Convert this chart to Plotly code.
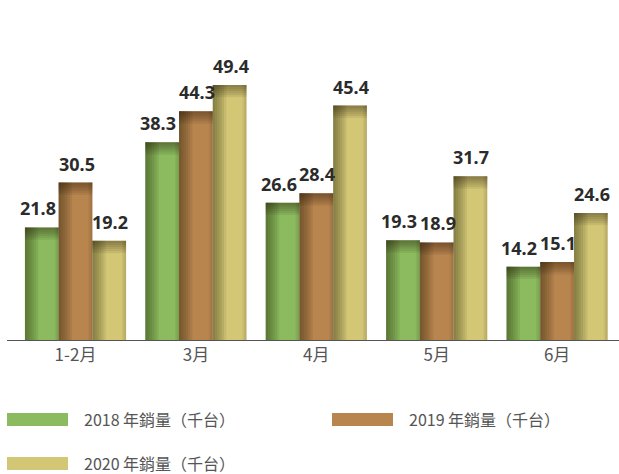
import plotly.graph_objects as go

categories = ["1-2月", "3月", "4月", "5月", "6月"]
series_names = ["2018 年銷量（千台）", "2019 年銷量（千台）", "2020 年銷量（千台）"]
sales_2018 = [21.8, 38.3, 26.6, 19.3, 14.2]
sales_2019 = [30.5, 44.3, 28.4, 18.9, 15.1]
sales_2020 = [19.2, 49.4, 45.4, 31.7, 24.6]
colors = ["#8bbb5e", "#b8854f", "#d3c776"]

all_series = [sales_2018, sales_2019, sales_2020]
xpos = list(range(len(categories)))
W = 0.28
offsets = [-1.5 * W, -0.5 * W, 0.5 * W]
label_xshift = [-4, 1, 1]

fig = go.Figure()

# main bars
for s, vals in enumerate(all_series):
    fig.add_trace(go.Bar(
        x=xpos, y=vals, width=W, offset=offsets[s],
        marker=dict(color=colors[s], line=dict(width=0)),
        name=series_names[s], showlegend=False, hoverinfo="skip",
    ))
    for i, v in enumerate(vals):
        fig.add_annotation(x=xpos[i] + offsets[s] + W / 2, y=v, text=f"{v:.1f}",
                           showarrow=False, xanchor="center", yanchor="bottom",
                           yshift=5, xshift=label_xshift[s],
                           font=dict(family="Noto Sans", size=18, color="#2b2b2b", weight="bold"))

# shading overlays: left edge gradient
n = 6
for k in range(n):
    frac = 0.40 * (n - k) / n
    xs, ys, offs, ws = [], [], [], []
    for s, vals in enumerate(all_series):
        for i, v in enumerate(vals):
            xs.append(xpos[i]); ys.append(v); offs.append(offsets[s]); ws.append(W * frac)
    fig.add_trace(go.Bar(x=xs, y=ys, offset=offs, width=ws,
                         marker=dict(color="rgba(30,20,0,0.08)", line=dict(width=0)),
                         showlegend=False, hoverinfo="skip"))
# right edge slight gradient
for k in range(3):
    frac = 0.12 * (3 - k) / 3
    xs, ys, offs, ws = [], [], [], []
    for s, vals in enumerate(all_series):
        for i, v in enumerate(vals):
            xs.append(xpos[i]); ys.append(v); offs.append(offsets[s] + W * (1 - frac)); ws.append(W * frac)
    fig.add_trace(go.Bar(x=xs, y=ys, offset=offs, width=ws,
                         marker=dict(color="rgba(30,20,0,0.05)", line=dict(width=0)),
                         showlegend=False, hoverinfo="skip"))
# top edge gradient
for k in range(n):
    d = 2.4 * (n - k) / n
    xs, ys, bases, offs = [], [], [], []
    for s, vals in enumerate(all_series):
        for i, v in enumerate(vals):
            xs.append(xpos[i]); ys.append(d); bases.append(v - d); offs.append(offsets[s])
    fig.add_trace(go.Bar(x=xs, y=ys, base=bases, offset=offs, width=W,
                         marker=dict(color="rgba(30,20,0,0.075)", line=dict(width=0)),
                         showlegend=False, hoverinfo="skip"))

# manual legend (wide swatches)
legend_pos = [(7, 413), (332, 413), (7, 457)]
for s, (lx, ly) in enumerate(legend_pos):
    fig.add_shape(type="rect", xref="paper", yref="paper",
                  x0=(lx - 7) / 612, x1=(lx + 61 - 7) / 612,
                  y0=(474 - 134 - (ly + 13)) / 284, y1=(474 - 134 - ly) / 284,
                  fillcolor=colors[s], line=dict(width=0))
    fig.add_annotation(xref="paper", yref="paper",
                       x=(lx + 75 - 7) / 612, y=(474 - 134 - (ly + 6)) / 284,
                       text=series_names[s], showarrow=False, xanchor="left", yanchor="middle",
                       font=dict(family="Noto Sans CJK TC", size=16, color="#555555"))

fig.update_layout(
    width=619, height=474,
    margin=dict(l=7, r=0, t=56, b=134),
    paper_bgcolor="white", plot_bgcolor="white",
    barmode="overlay", showlegend=False,
    xaxis=dict(range=[-0.569, 4.514], tickvals=xpos, ticktext=categories,
               showgrid=False, zeroline=False, showline=True, linecolor="#555555", linewidth=1,
               ticks="", tickfont=dict(family="Noto Sans CJK TC", size=17, color="#555555")),
    yaxis=dict(range=[0, 55], visible=False, showgrid=False, zeroline=False),
)

fig.write_html("out.html", config={"displayModeBar": False},
               post_script="document.body.style.margin='0';")
